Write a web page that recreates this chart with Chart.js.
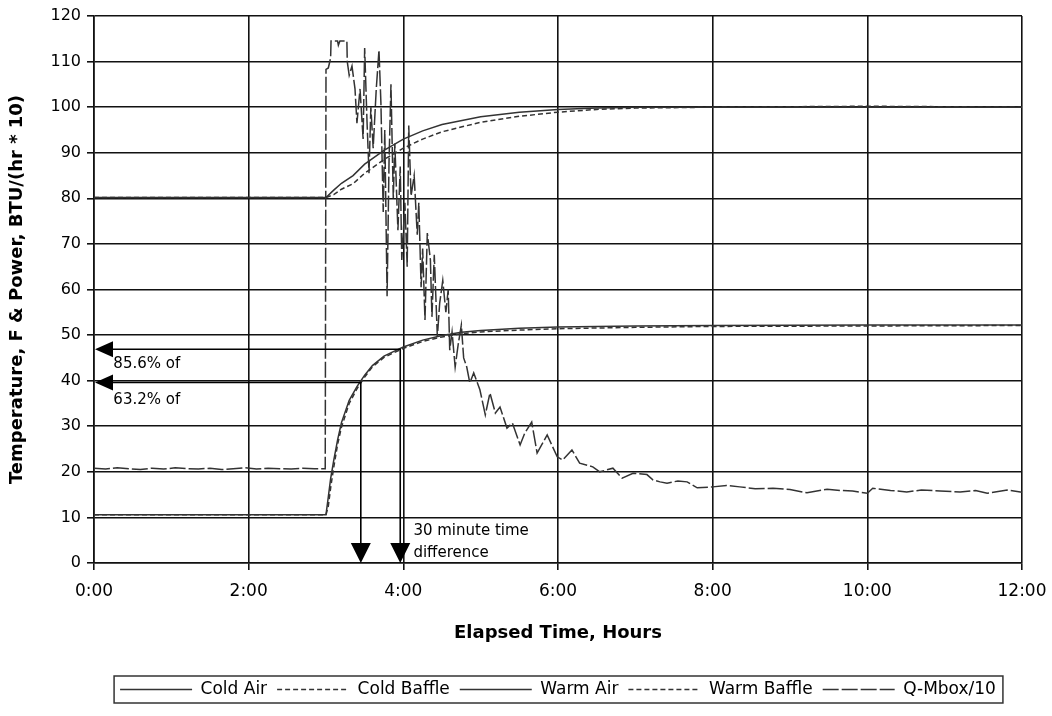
<!DOCTYPE html>
<html><head><meta charset="utf-8">
<script src="https://cdn.jsdelivr.net/npm/chart.js@4.4.0/dist/chart.umd.min.js"></script>
<style>html,body{margin:0;padding:0;background:#fff}canvas{display:block}</style>
</head><body>
<canvas id="c" width="1052" height="716"></canvas>
<script>
// ---- tick labels ----
const xTickLabels = ['0:00','2:00','4:00','6:00','8:00','10:00','12:00'];

// ---- Cold Air / Cold Baffle (hours, °F) ----
const coldTime   = [0, 1, 2, 3.0, 3.03, 3.06, 3.1, 3.15, 3.2, 3.3, 3.4, 3.5, 3.6, 3.75, 4.0, 4.25, 4.5, 4.75, 5.0, 5.5, 6.0, 7.0, 8.0, 10.0, 12.0];
const coldAir    = [10.6,10.6,10.6,10.6,14.5,18.5,22.5,27,30.8,35.7,38.7,41.2,43.3,45.4,47.4,48.9,49.9,50.6,51.0,51.5,51.8,52.0,52.1,52.2,52.2];
const coldBaffle = [10.6,10.6,10.6,10.6,12.5,16.5,21,26,29.8,35,38.2,40.8,43,45.1,47.1,48.6,49.6,50.3,50.7,51.1,51.4,51.7,51.9,52.0,52.1];

// ---- Warm Air / Warm Baffle ----
const warmTime   = [0, 1, 2, 3.0, 3.1, 3.2, 3.35, 3.5, 3.75, 4.0, 4.25, 4.5, 5.0, 5.5, 6.0, 6.5, 7.0, 8, 10, 12];
const warmAir    = [80.2,80.2,80.2,80.2,81.8,83.3,85,87.5,90.5,93,94.8,96.2,97.9,98.9,99.5,99.8,100,100,100,100];
const warmBaffle = [80.2,80.2,80.2,80.2,80.8,82,83.2,85.5,88.5,91,93,94.6,96.7,98,98.9,99.5,99.8,100,100.2,100];

// ---- Q-Mbox/10 ----
const qTime = [
  0,0.15,0.3,0.45,0.6,0.75,0.9,1.05,1.2,1.35,
  1.5,1.65,1.8,1.95,2.1,2.25,2.4,2.55,2.7,2.85,
  2.99,3.0,3.03,3.06,3.065,3.15,3.16,3.18,3.27,3.275,
  3.30,3.336,3.375,3.40,3.44,3.48,3.50,3.53,3.556,3.58,
  3.61,3.65,3.685,3.71,3.74,3.76,3.79,3.815,3.84,3.87,
  3.89,3.93,3.96,3.98,4.02,4.05,4.07,4.10,4.14,4.18,
  4.20,4.23,4.25,4.28,4.31,4.35,4.37,4.40,4.44,4.47,
  4.51,4.55,4.58,4.60,4.63,4.67,4.71,4.75,4.78,4.82,
  4.86,4.91,4.99,5.06,5.12,5.19,5.25,5.34,5.41,5.51,
  5.57,5.66,5.73,5.86,5.99,6.06,6.18,6.28,6.45,6.54,
  6.71,6.83,6.97,7.15,7.23,7.32,7.41,7.55,7.67,7.80,
  8.00,8.18,8.35,8.55,8.78,9.0,9.22,9.48,9.65,9.81,
  10.0,10.07,10.3,10.51,10.7,10.94,11.2,11.4,11.55,11.81,
  12.0
];
const qMbox = [
  20.8,20.6,20.9,20.7,20.5,20.8,20.6,20.9,20.7,20.6,
  20.8,20.5,20.7,20.9,20.6,20.8,20.7,20.6,20.8,20.7,
  20.7,108.3,108.6,110.8,114.5,114.5,113.6,114.5,114.5,110,
  107,109,104,96.5,104,93,113,97,85.5,100,
  91,104,112.5,101,77,95,58.5,88,105,80,
  92,73,87,66.5,79,65,96,80.5,85,72,
  79,60.5,69,53.3,72.4,66.5,54,67.6,49.6,57,
  62,55,60,46.7,50.7,43,48,52.2,45,43,
  39.5,41.7,38,32.5,37.3,32.9,34.2,29.6,30.7,25.9,
  28.5,30.9,24.1,28.1,23.3,22.6,24.8,21.9,21.1,20,
  20.8,18.6,19.7,19.4,18.2,17.8,17.5,18.0,17.8,16.5,
  16.7,17.0,16.7,16.3,16.4,16.1,15.4,16.2,15.9,15.8,
  15.3,16.4,15.9,15.6,16.0,15.8,15.6,15.9,15.3,16.0,
  15.5
];

// ---- annotation values (data units) ----
const annotLevels = [46.9, 39.6];
const annotTimes  = [3.96, 3.45];
const annotLabels = ['85.6% of', '63.2% of'];
const annotLabelAt = [[0.25, 43.6], [0.25, 35.8]];
const noteLines = ['30 minute time', 'difference'];
const noteAt = [[4.13, 6.9], [4.13, 2.1]];

const pts = (t, v) => t.map((x, i) => ({x, y: v[i]}));

Chart.defaults.font.family = 'DejaVu Sans';
Chart.defaults.color = '#000';

const annotPlugin = {
  id: 'annot',
  afterDatasetsDraw(chart) {
    const {ctx, scales: {x, y}} = chart;
    ctx.save();
    ctx.strokeStyle = '#000'; ctx.fillStyle = '#000'; ctx.lineWidth = 1.6;
    const x0 = x.getPixelForValue(0), y0 = y.getPixelForValue(0);
    annotLevels.forEach((lv, i) => {
      const py = y.getPixelForValue(lv), px = x.getPixelForValue(annotTimes[i]);
      ctx.beginPath(); ctx.moveTo(x0 + 4, py); ctx.lineTo(px, py); ctx.lineTo(px, y0 - 4); ctx.stroke();
      ctx.beginPath(); ctx.moveTo(x0 + 1, py); ctx.lineTo(x0 + 19, py - 8); ctx.lineTo(x0 + 19, py + 8); ctx.closePath(); ctx.fill();
      ctx.beginPath(); ctx.moveTo(px, y0); ctx.lineTo(px - 10, y0 - 20); ctx.lineTo(px + 10, y0 - 20); ctx.closePath(); ctx.fill();
    });
    ctx.font = '15px "DejaVu Sans"'; ctx.textAlign = 'left'; ctx.textBaseline = 'middle';
    annotLabels.forEach((t, i) => ctx.fillText(t, x.getPixelForValue(annotLabelAt[i][0]), y.getPixelForValue(annotLabelAt[i][1])));
    noteLines.forEach((t, i) => ctx.fillText(t, x.getPixelForValue(noteAt[i][0]), y.getPixelForValue(noteAt[i][1])));
    ctx.restore();
  },
  afterDraw(chart) {
    const lg = chart.legend;
    if (!lg || !lg.legendHitBoxes.length) return;
    const hb = lg.legendHitBoxes;
    const l = Math.min(...hb.map(h => h.left)) - 6;
    const r = Math.max(...hb.map(h => h.left + h.width)) + 7;
    const cy = hb[0].top + hb[0].height / 2;
    const ctx = chart.ctx;
    ctx.save(); ctx.strokeStyle = '#333'; ctx.lineWidth = 1.5;
    ctx.strokeRect(l, cy - 13.5, r - l, 27);
    ctx.restore();
  }
};

const lineDs = (label, data, dash) => ({
  label, data, borderColor: '#333', backgroundColor: '#333', borderWidth: 1.5,
  borderDash: dash, pointRadius: 0, tension: 0, fill: false
});

const defaultLabels = Chart.defaults.plugins.legend.labels.generateLabels;

new Chart(document.getElementById('c'), {
  type: 'line',
  data: {
    datasets: [
      lineDs('Cold Air', pts(coldTime, coldAir), []),
      lineDs('Cold Baffle', pts(coldTime, coldBaffle), [5, 3]),
      lineDs('Warm Air', pts(warmTime, warmAir), []),
      lineDs('Warm Baffle', pts(warmTime, warmBaffle), [5, 3]),
      lineDs('Q-Mbox/10', pts(qTime, qMbox), [16, 3])
    ]
  },
  options: {
    responsive: false, animation: false, devicePixelRatio: 1,
    layout: { padding: { top: 16, right: 30, bottom: 8, left: 0 } },
    plugins: {
      legend: {
        position: 'bottom', fullSize: false,
        labels: { usePointStyle: true, pointStyle: 'line', pointStyleWidth: 72, boxWidth: 72,
                  font: { size: 17 }, color: '#000', padding: 10,
                  generateLabels: chart => defaultLabels(chart).map(it => {
                    const ds = chart.data.datasets[it.datasetIndex];
                    it.lineDash = ds.borderDash; it.lineWidth = 1.5; it.strokeStyle = '#333';
                    return it;
                  }) }
      },
      tooltip: { enabled: false }
    },
    scales: {
      x: {
        type: 'linear', min: 0, max: 12,
        afterFit: s => { s.height = 108; s.paddingRight = 0; s.paddingLeft = 0; },
        ticks: { stepSize: 2, autoSkip: false, maxRotation: 0, padding: 11,
                 font: { size: 17 }, color: '#000',
                 callback: v => xTickLabels[Math.round(v / 2)] },
        grid: { color: '#111', lineWidth: 1.6, tickLength: 7, drawTicks: true },
        border: { color: '#111', width: 1.6 },
        title: { display: true, text: 'Elapsed Time, Hours', color: '#000',
                 font: { size: 18, weight: 'bold' }, padding: { top: 4, bottom: 27 } }
      },
      y: {
        min: 0, max: 120,
        afterFit: s => { s.width = 94; },
        ticks: { stepSize: 10, autoSkip: false, padding: 6, font: { size: 16 }, color: '#000' },
        grid: { color: '#111', lineWidth: 1.6, tickLength: 7 },
        border: { color: '#111', width: 1.6 },
        title: { display: true, text: 'Temperature, F & Power, BTU/(hr * 10)', color: '#000',
                 font: { size: 18, weight: 'bold' }, padding: { top: 7, bottom: 4 } }
      }
    }
  },
  plugins: [annotPlugin]
});
</script>
</body></html>
